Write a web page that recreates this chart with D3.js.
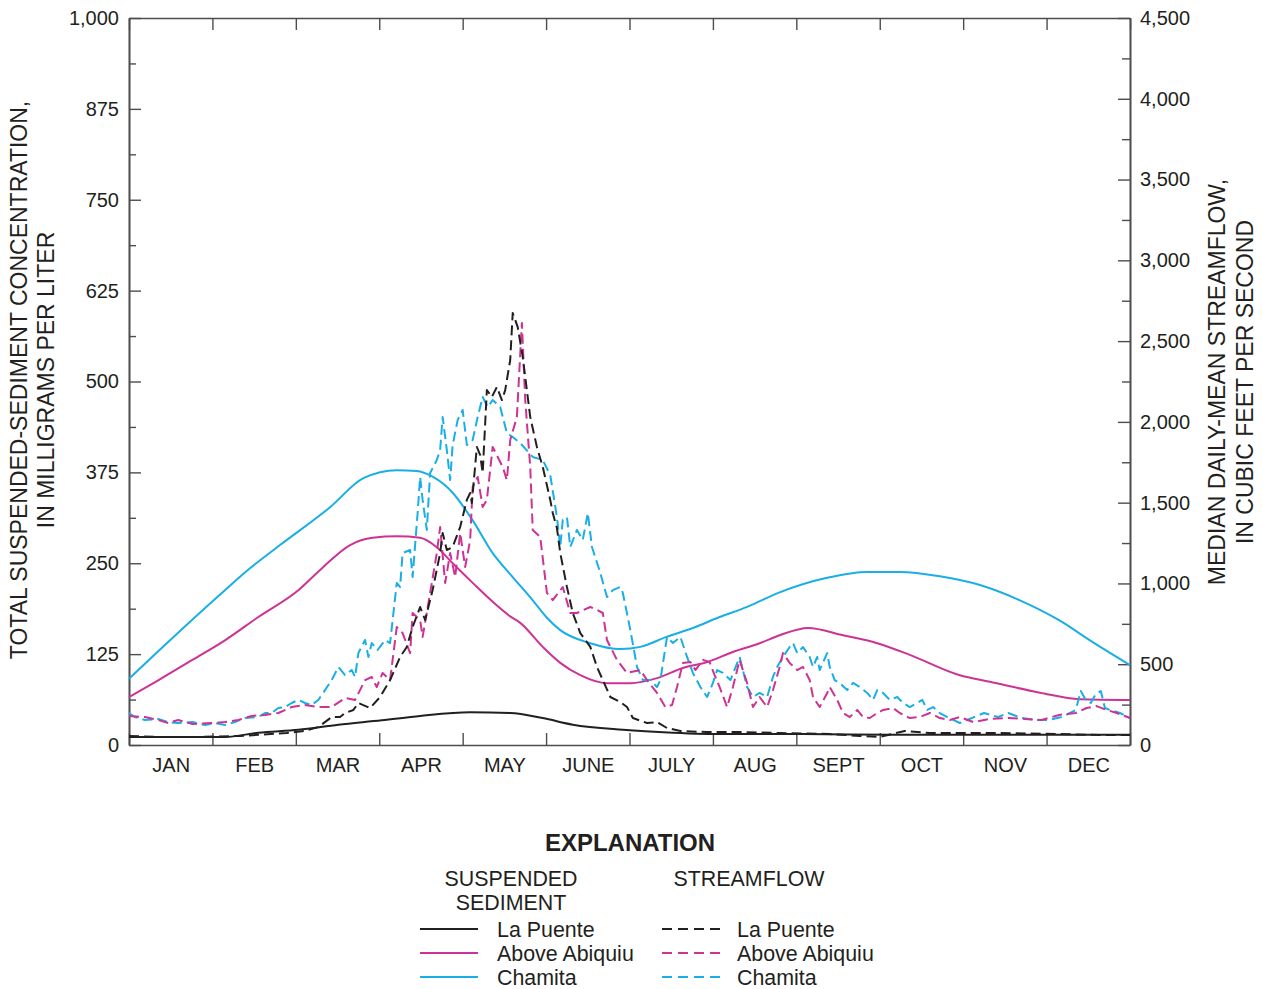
<!DOCTYPE html>
<html>
<head>
<meta charset="utf-8">
<script src="https://cdn.jsdelivr.net/npm/d3@7"></script>
<style>
  html, body { margin: 0; padding: 0; background: #fff; }
  svg text { font-family: "Liberation Sans", Arial, Helvetica, sans-serif; fill: #231f20; }
</style>
</head>
<body>
<svg id="chart" width="1263" height="989"></svg>
<script>
// Month labels (x positions are fractional months, 0 = 1 January, 12 = 31 December)
const months = ["JAN", "FEB", "MAR", "APR", "MAY", "JUNE", "JULY", "AUG", "SEPT", "OCT", "NOV", "DEC"];
const leftTicks = [0, 125, 250, 375, 500, 625, 750, 875, 1000];
const rightTicks = [0, 500, 1000, 1500, 2000, 2500, 3000, 3500, 4000, 4500];

// Total suspended-sediment concentration, mg/L  [month, value]
const sedLaPuente = [[0,11],[1.15,11],[1.55,17],[2.03,21],[2.51,28],[3.03,34],[3.49,40],[4.09,45],[4.57,44],[4.96,37],[5.32,28],[5.92,21],[6.52,17],[7.12,15],[8.04,15],[9.24,14],[12,14]];
const sedAbiquiu = [[0,66],[0.35,89],[0.76,117],[1.15,144],[1.55,176],[2.03,213],[2.33,245],[2.65,275],[2.92,285],[3.21,287],[3.49,285],[3.69,272],[3.88,250],[4.12,223],[4.36,197],[4.57,177],[4.69,168],[4.96,135],[5.17,113],[5.41,96],[5.73,85],[6.01,85],[6.33,92],[6.64,106],[6.93,114],[7.24,128],[7.56,140],[7.80,151],[8.14,161],[8.56,151],[8.97,140],[9.36,124],[9.96,96],[10.32,87],[10.92,72],[11.40,63],[12,62]];
const sedChamita = [[0,91],[0.35,129],[1.15,213],[1.45,243],[1.81,275],[2.41,327],[2.81,367],[3.21,378],[3.45,377],[3.64,369],[3.88,347],[4.12,309],[4.36,264],[4.60,231],[4.84,199],[5.01,175],[5.17,158],[5.53,140],[5.89,132],[6.13,135],[6.45,149],[6.76,161],[7.08,176],[7.41,190],[7.80,210],[8.37,230],[8.85,238],[9.24,238],[9.72,232],[10.20,220],[10.68,199],[11.16,171],[11.52,144],[12,110]];

// Median daily-mean streamflow, ft3/s  [month, value]
const flowLaPuente = [[0,56],[0.37,50],[0.85,50],[1.33,56],[1.89,74],[2.11,87],[2.27,111],[2.43,173],[2.53,173],[2.59,198],[2.69,217],[2.75,260],[2.89,229],[3.01,297],[3.13,402],[3.25,545],[3.33,607],[3.40,730],[3.49,854],[3.55,774],[3.64,959],[3.73,1188],[3.76,1312],[3.81,1207],[3.88,1226],[3.97,1349],[4.05,1517],[4.09,1560],[4.11,1498],[4.17,1845],[4.21,1795],[4.24,1684],[4.29,2197],[4.35,2154],[4.41,2216],[4.47,2135],[4.51,2197],[4.57,2383],[4.60,2674],[4.66,2587],[4.72,2402],[4.81,2030],[4.89,1845],[4.96,1721],[5.05,1517],[5.08,1436],[5.13,1343],[5.17,1188],[5.25,978],[5.32,817],[5.41,693],[5.53,607],[5.61,483],[5.68,402],[5.77,297],[5.89,266],[5.97,235],[6.04,167],[6.21,136],[6.33,142],[6.45,105],[6.61,87],[6.93,80],[7.32,80],[7.80,74],[8.40,68],[8.76,56],[9.00,50],[9.30,87],[9.60,74],[10.44,74],[11.16,68],[11.64,62],[12,62]];
const flowAbiquiu = [[0,180],[0.19,173],[0.35,155],[0.47,136],[0.59,155],[0.76,130],[0.99,136],[1.15,142],[1.31,155],[1.47,180],[1.63,186],[1.79,198],[1.95,235],[2.11,248],[2.27,235],[2.43,235],[2.59,291],[2.71,279],[2.83,402],[2.91,421],[2.97,359],[3.04,446],[3.13,402],[3.21,730],[3.28,693],[3.37,569],[3.40,817],[3.49,774],[3.52,669],[3.61,941],[3.69,1188],[3.73,1349],[3.79,1003],[3.85,1188],[3.91,1040],[3.97,1312],[4.03,1102],[4.09,1269],[4.12,1597],[4.18,1659],[4.24,1473],[4.29,1517],[4.36,1845],[4.42,1783],[4.48,1721],[4.53,1640],[4.57,1888],[4.65,2030],[4.71,2612],[4.75,2135],[4.81,1721],[4.84,1331],[4.93,1287],[5.01,941],[5.08,897],[5.20,978],[5.29,817],[5.37,817],[5.53,854],[5.61,836],[5.68,817],[5.73,650],[5.85,526],[5.97,446],[6.13,464],[6.21,402],[6.33,322],[6.43,235],[6.51,248],[6.57,359],[6.64,508],[6.73,514],[6.79,464],[6.88,526],[6.96,514],[7.02,433],[7.08,359],[7.17,235],[7.24,359],[7.32,526],[7.41,384],[7.48,235],[7.56,297],[7.65,235],[7.72,340],[7.80,483],[7.84,569],[7.92,508],[8.01,464],[8.08,483],[8.16,402],[8.20,297],[8.28,235],[8.37,322],[8.40,359],[8.49,279],[8.56,198],[8.64,173],[8.73,217],[8.80,173],[8.88,167],[8.97,198],[9.04,217],[9.16,229],[9.24,198],[9.36,167],[9.48,173],[9.60,198],[9.72,167],[9.84,155],[9.96,173],[10.12,142],[10.32,161],[10.54,167],[10.74,161],[10.94,155],[11.15,186],[11.35,198],[11.48,229],[11.60,241],[11.72,217],[11.84,198],[12,167]];
const flowChamita = [[0,198],[0.07,173],[0.19,155],[0.35,161],[0.47,142],[0.59,136],[0.76,142],[0.91,124],[1.03,136],[1.15,124],[1.27,142],[1.39,167],[1.55,173],[1.63,198],[1.71,198],[1.79,229],[1.87,235],[1.95,260],[2.03,279],[2.11,260],[2.19,248],[2.27,279],[2.35,340],[2.43,402],[2.51,483],[2.59,433],[2.67,464],[2.71,421],[2.75,569],[2.83,650],[2.87,545],[2.91,631],[2.98,588],[3.07,650],[3.13,631],[3.21,1003],[3.25,978],[3.28,1188],[3.37,1207],[3.40,1040],[3.46,1436],[3.49,1659],[3.52,1517],[3.57,1331],[3.61,1684],[3.69,1764],[3.73,1826],[3.76,2030],[3.81,1826],[3.85,1640],[3.88,1857],[3.94,2012],[4.00,2074],[4.05,1857],[4.12,1888],[4.18,2030],[4.24,2154],[4.30,2092],[4.36,2135],[4.45,2092],[4.53,1931],[4.60,1906],[4.69,1869],[4.84,1783],[4.96,1764],[5.05,1671],[5.13,1411],[5.17,1226],[5.20,1393],[5.25,1411],[5.29,1226],[5.37,1331],[5.44,1269],[5.50,1436],[5.55,1226],[5.65,1065],[5.73,916],[5.80,959],[5.89,978],[5.92,941],[6.01,712],[6.09,483],[6.16,402],[6.25,402],[6.33,359],[6.37,402],[6.45,669],[6.52,631],[6.61,669],[6.69,545],[6.76,446],[6.85,359],[6.93,297],[7.00,384],[7.05,464],[7.12,446],[7.21,402],[7.32,545],[7.41,359],[7.48,297],[7.56,322],[7.65,297],[7.72,421],[7.77,483],[7.84,545],[7.92,607],[7.96,631],[8.01,569],[8.08,607],[8.16,545],[8.20,483],[8.25,545],[8.28,464],[8.37,569],[8.40,483],[8.46,402],[8.52,384],[8.61,340],[8.68,384],[8.76,359],[8.85,322],[8.92,279],[8.97,340],[9.04,322],[9.12,279],[9.21,297],[9.28,260],[9.36,235],[9.45,260],[9.51,279],[9.57,217],[9.64,235],[9.72,198],[9.81,173],[9.88,155],[9.96,136],[10.13,173],[10.25,198],[10.42,173],[10.54,198],[10.70,167],[10.86,155],[11.03,155],[11.18,173],[11.35,217],[11.41,334],[11.47,279],[11.53,260],[11.59,316],[11.65,334],[11.70,229],[11.76,217],[11.88,198],[12,167]];

const stations = ["La Puente", "Above Abiquiu", "Chamita"];
const colors = {"La Puente": "#231f20", "Above Abiquiu": "#cc3394", "Chamita": "#1aaee6"};

(function draw() {
  const svg = d3.select("#chart");
  const plotLeft = 129, plotRight = 1130, plotTop = 18, plotBottom = 745;

  const x = d3.scaleLinear().domain([0, 12]).range([plotLeft, plotRight]);
  const yL = d3.scaleLinear().domain([0, 1000]).range([plotBottom, plotTop]);
  const yR = d3.scaleLinear().domain([0, 4500]).range([plotBottom, plotTop]);

  const axisColor = "#4d4d4d";
  function styleAxis(g) {
    g.selectAll("path.domain").attr("stroke", axisColor).attr("stroke-width", 1.6);
    g.selectAll(".tick line").attr("stroke", axisColor).attr("stroke-width", 1.4);
    g.selectAll(".tick text").attr("font-size", 20).attr("fill", "#231f20")
      .attr("font-family", "Liberation Sans, Arial, sans-serif");
  }

  // minor ticks (unlabelled)
  const leftMinor = d3.range(62.5, 1000, 125);
  const rightMinor = d3.range(250, 4500, 500);

  svg.append("g").attr("transform", `translate(${plotLeft},0)`)
    .call(d3.axisLeft(yL).tickValues(leftMinor).tickSizeInner(-7).tickSizeOuter(0).tickFormat(""))
    .call(styleAxis);
  svg.append("g").attr("transform", `translate(${plotLeft},0)`)
    .call(d3.axisLeft(yL).tickValues(leftTicks).tickSizeInner(-12).tickSizeOuter(0).tickPadding(10).tickFormat(d3.format(",")))
    .call(styleAxis);

  svg.append("g").attr("transform", `translate(${plotRight},0)`)
    .call(d3.axisRight(yR).tickValues(rightMinor).tickSizeInner(-8).tickSizeOuter(0).tickFormat(""))
    .call(styleAxis);
  svg.append("g").attr("transform", `translate(${plotRight},0)`)
    .call(d3.axisRight(yR).tickValues(rightTicks).tickSizeInner(-12).tickSizeOuter(0).tickPadding(10).tickFormat(d3.format(",")))
    .call(styleAxis);

  // month boundaries, top and bottom
  svg.append("g").attr("transform", `translate(0,${plotBottom})`)
    .call(d3.axisBottom(x).tickValues(d3.range(0, 13)).tickSizeInner(-12).tickSizeOuter(0).tickFormat(""))
    .call(styleAxis);
  svg.append("g").attr("transform", `translate(0,${plotTop})`)
    .call(d3.axisTop(x).tickValues(d3.range(0, 13)).tickSizeInner(-12).tickSizeOuter(0).tickFormat(""))
    .call(styleAxis);
  // month names centred in each month
  svg.append("g").attr("transform", `translate(0,${plotBottom})`)
    .call(d3.axisBottom(x).tickValues(d3.range(0.5, 12, 1)).tickSize(0).tickPadding(13).tickFormat((d, i) => months[i]))
    .call(g => g.select("path.domain").remove())
    .call(styleAxis);

  // series
  const smooth = d3.line().x(d => x(d[0])).y(d => yL(d[1])).curve(d3.curveMonotoneX);
  const jagged = d3.line().x(d => x(d[0])).y(d => yR(d[1]));

  const sediment = {"La Puente": sedLaPuente, "Above Abiquiu": sedAbiquiu, "Chamita": sedChamita};
  const flow = {"La Puente": flowLaPuente, "Above Abiquiu": flowAbiquiu, "Chamita": flowChamita};

  const plot = svg.append("g");
  ["Chamita", "Above Abiquiu", "La Puente"].forEach(s => {
    plot.append("path").datum(sediment[s])
      .attr("d", smooth).attr("fill", "none")
      .attr("stroke", colors[s]).attr("stroke-width", 2);
  });
  ["Chamita", "Above Abiquiu", "La Puente"].forEach(s => {
    plot.append("path").datum(flow[s])
      .attr("d", jagged).attr("fill", "none")
      .attr("stroke", colors[s]).attr("stroke-width", 2)
      .attr("stroke-dasharray", "10,5").attr("stroke-linejoin", "round");
  });

  // axis titles
  const titleSize = 23;
  svg.append("text").attr("transform", "translate(27,380) rotate(-90)")
    .attr("text-anchor", "middle").attr("font-size", titleSize)
    .text("TOTAL SUSPENDED-SEDIMENT CONCENTRATION,");
  svg.append("text").attr("transform", "translate(54,380) rotate(-90)")
    .attr("text-anchor", "middle").attr("font-size", titleSize)
    .text("IN MILLIGRAMS PER LITER");
  svg.append("text").attr("transform", "translate(1225,382) rotate(-90)")
    .attr("text-anchor", "middle").attr("font-size", titleSize)
    .text("MEDIAN DAILY-MEAN STREAMFLOW,");
  svg.append("text").attr("transform", "translate(1253,382) rotate(-90)")
    .attr("text-anchor", "middle").attr("font-size", titleSize)
    .text("IN CUBIC FEET PER SECOND");

  // explanation
  const legSize = 21.4;
  const leg = svg.append("g");
  leg.append("text").attr("x", 630).attr("y", 851).attr("text-anchor", "middle")
    .attr("font-size", 24).attr("font-weight", "bold").text("EXPLANATION");
  leg.append("text").attr("x", 511).attr("y", 886).attr("text-anchor", "middle").attr("font-size", legSize).text("SUSPENDED");
  leg.append("text").attr("x", 511).attr("y", 910).attr("text-anchor", "middle").attr("font-size", legSize).text("SEDIMENT");
  leg.append("text").attr("x", 749).attr("y", 886).attr("text-anchor", "middle").attr("font-size", legSize).text("STREAMFLOW");

  stations.forEach((s, i) => {
    const yy = 929 + i * 24;
    leg.append("line").attr("x1", 420).attr("x2", 478).attr("y1", yy).attr("y2", yy)
      .attr("stroke", colors[s]).attr("stroke-width", 2);
    leg.append("text").attr("x", 497).attr("y", yy + 7.5).attr("font-size", legSize).text(s);
    leg.append("line").attr("x1", 662).attr("x2", 720).attr("y1", yy).attr("y2", yy)
      .attr("stroke", colors[s]).attr("stroke-width", 2).attr("stroke-dasharray", "10,6");
    leg.append("text").attr("x", 737).attr("y", yy + 7.5).attr("font-size", legSize).text(s);
  });
})();
</script>
</body>
</html>
